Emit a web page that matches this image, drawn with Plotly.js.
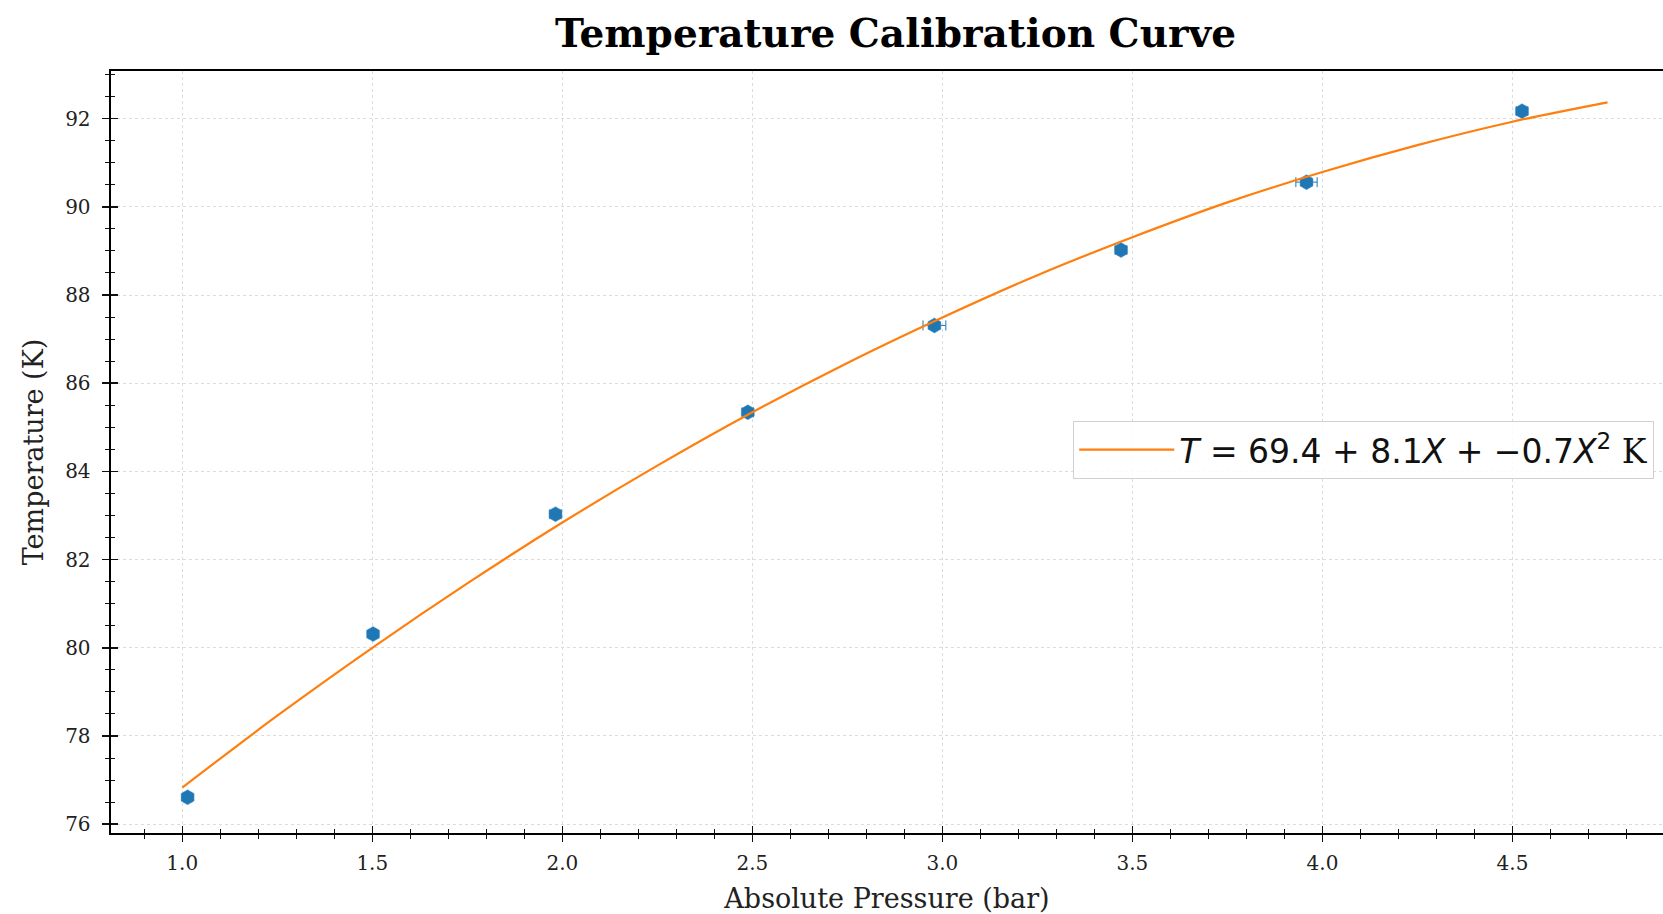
<!DOCTYPE html>
<html>
<head>
<meta charset="utf-8">
<script src="https://cdn.plot.ly/plotly-3.0.1.min.js"></script>
<style>html,body{margin:0;padding:0;background:#fff;}#chart{width:1663px;height:914px;}</style>
</head>
<body>
<div id="chart"></div>
<script>
// Measured calibration points
const pressure = [1.014, 1.502, 1.982, 2.488, 2.979, 3.470, 3.958, 4.525];
const temperature = [76.61, 80.31, 83.03, 85.34, 87.31, 89.02, 90.56, 92.17];
const pressureErr = [0.010, 0.012, 0.015, 0.015, 0.030, 0.015, 0.028, 0.015];
const temperatureErr = [0.08, 0.08, 0.08, 0.08, 0.08, 0.08, 0.08, 0.08];

// Fitted curve
const fitX = [1.0, 1.25, 1.5, 1.75, 2.0, 2.25, 2.5, 2.75, 3.0, 3.25, 3.5, 3.75, 4.0, 4.25, 4.5, 4.75];
const fitT = [76.83, 78.46, 80.00, 81.46, 82.84, 84.13, 85.34, 86.46, 87.49, 88.45, 89.31, 90.10, 90.79, 91.40, 91.93, 92.37];

const xTickVals = [1.0, 1.5, 2.0, 2.5, 3.0, 3.5, 4.0, 4.5];
const xTickText = ['1.0', '1.5', '2.0', '2.5', '3.0', '3.5', '4.0', '4.5'];
const yTickVals = [76, 78, 80, 82, 84, 86, 88, 90, 92];

const titleText = 'Temperature Calibration Curve';
const xTitle = 'Absolute Pressure (bar)';
const yTitle = 'Temperature (K)';
const fitLabel = '<i>T</i> = 69.4 + 8.1<i>X</i> + \u22120.7<i>X</i><sup>2</sup> <span style="font-family:\'DejaVu Serif\'">K</span>';

const serif = "'DejaVu Serif', serif";
const tickColor = '#222';

const traces = [
  {
    x: pressure, y: temperature, type: 'scatter', mode: 'markers',
    marker: {symbol: 'hexagon', size: 15, color: '#1f77b4', line: {width: 0.5, color: '#5a9bd0'}},
    error_x: {type: 'data', array: pressureErr, color: '#1f77b4', thickness: 1, width: 5},
    error_y: {type: 'data', array: temperatureErr, color: '#1f77b4', thickness: 1, width: 5},
    showlegend: false, hoverinfo: 'x+y'
  },
  {
    x: fitX, y: fitT, type: 'scatter', mode: 'lines', name: fitLabel,
    line: {color: '#ff7f0e', width: 2.2, shape: 'spline'}
  },
  {x: [pressure[0]], y: [temperature[0]], xaxis: 'x2', yaxis: 'y2', type: 'scatter', mode: 'markers',
   marker: {opacity: 0}, showlegend: false, hoverinfo: 'skip'}
];

const commonTick = {ticklen: 7, tickwidth: 1.5, tickcolor: '#111'};
const layout = {
  width: 1663, height: 914,
  paper_bgcolor: '#fff', plot_bgcolor: '#fff',
  margin: {l: 111, r: 0, t: 71, b: 81},
  title: {text: '<b>' + titleText + '</b>', font: {family: serif, size: 39, color: '#000'},
          x: 0.5385, xanchor: 'center', y: 0.963, yanchor: 'middle'},
  xaxis: {
    range: [0.8125, 4.896], tickvals: xTickVals, ticktext: xTickText,
    ticks: 'outside', ...commonTick,
    minor: {dtick: 0.1, tick0: 0, ticks: 'outside', ticklen: 4, tickwidth: 1, tickcolor: '#111', showgrid: false},
    showline: true, linecolor: '#000', linewidth: 2.4, mirror: true,
    showgrid: true, gridcolor: '#dcdcdc', griddash: 'dot', gridwidth: 1,
    zeroline: false, ticklabelstandoff: 4,
    tickfont: {family: serif, size: 20, color: tickColor},
    title: {text: xTitle, font: {family: serif, size: 27, color: '#222'}, standoff: 19}
  },
  yaxis: {
    range: [75.8, 93.08], tickvals: yTickVals,
    ticks: 'outside', ...commonTick,
    minor: {dtick: 0.5, tick0: 0, ticks: 'outside', ticklen: 4, tickwidth: 1, tickcolor: '#111', showgrid: false},
    showline: true, linecolor: '#000', linewidth: 2.4, mirror: false,
    showgrid: true, gridcolor: '#dcdcdc', griddash: 'dot', gridwidth: 1,
    zeroline: false, ticklabelstandoff: 7,
    tickfont: {family: serif, size: 20, color: tickColor},
    title: {text: yTitle, font: {family: serif, size: 27, color: '#222'}, standoff: 14}
  },
  xaxis2: {
    overlaying: 'x', matches: 'x', anchor: 'y2', side: 'bottom',
    tickvals: xTickVals, ticks: 'inside', ...commonTick,
    minor: {dtick: 0.1, tick0: 0, ticks: 'inside', ticklen: 4, tickwidth: 1, tickcolor: '#111', showgrid: false},
    showticklabels: false, showgrid: false, showline: false, zeroline: false
  },
  yaxis2: {
    overlaying: 'y', matches: 'y', anchor: 'x2', side: 'left',
    tickvals: yTickVals, ticks: 'inside', ...commonTick,
    minor: {dtick: 0.5, tick0: 0, ticks: 'inside', ticklen: 4, tickwidth: 1, tickcolor: '#111', showgrid: false},
    showticklabels: false, showgrid: false, showline: false, zeroline: false
  },
  showlegend: true,
  legend: {
    x: 0.62, xanchor: 'left', y: 0.541, yanchor: 'top',
    bgcolor: 'rgba(255,255,255,0.85)', bordercolor: '#d0d0d0', borderwidth: 1,
    font: {family: "'DejaVu Sans', sans-serif", size: 33, color: '#111'},
    itemwidth: 95
  }
};

Plotly.newPlot('chart', traces, layout, {displayModeBar: false, staticPlot: true});
</script>
</body>
</html>
